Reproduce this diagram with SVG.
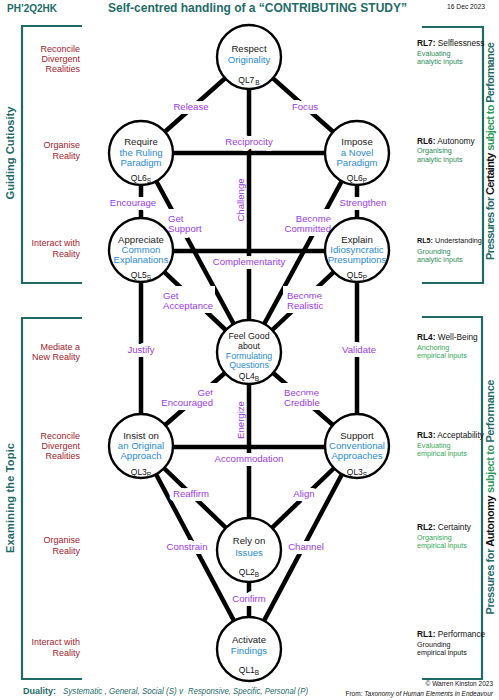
<svg xmlns="http://www.w3.org/2000/svg" width="499" height="700" viewBox="0 0 499 700">
<style>
text{font-family:"Liberation Sans",Arial,sans-serif}
.ln{stroke:#000;stroke-width:4.5;fill:none;stroke-linecap:butt}
.nd{fill:#fff;stroke:#000;stroke-width:2.4}
.nt{font-size:9.6px;fill:#1a1a1a;text-anchor:middle}
.ns{font-size:8.8px}
.nb{fill:#2b8bd3}
.ql{font-size:8.5px;fill:#111;text-anchor:middle}
.sb{font-size:6.5px}
.lb{font-size:9.6px;fill:#9b3be6;paint-order:stroke;stroke:#fff;stroke-width:8px;stroke-linejoin:round}
.lv{font-size:9.6px;fill:#9b3be6;text-anchor:middle}
.bg{fill:#fff}
.mid{text-anchor:middle}
.end{text-anchor:end}
.red{font-size:9px;fill:#a3222d;text-anchor:end}
.rl{font-size:8.3px;fill:#111}
.rl5{font-size:7.2px;fill:#111}
.rlb{font-weight:bold}
.ga{font-size:7.2px;fill:#2b8a55}
.ge{font-size:7.2px;fill:#33a852}
.gk{font-size:7.2px;fill:#111}
.br{stroke:#1e6b68;stroke-width:2.2;fill:none}
.teal{fill:#1e6b68}
.vt{font-size:11px;font-weight:bold;fill:#1e6b68;text-anchor:middle}
</style>

<g id="header">
<text x="7" y="12" class="teal" font-size="10.5" font-weight="bold" textLength="50" lengthAdjust="spacingAndGlyphs">PH’2Q2HK</text>
<text x="108" y="12" class="teal" font-size="13.5" font-weight="bold" textLength="299" lengthAdjust="spacingAndGlyphs">Self-centred handling of a  “CONTRIBUTING STUDY”</text>
<text x="447" y="8.5" font-size="7" fill="#111" textLength="38" lengthAdjust="spacingAndGlyphs">16 Dec 2023</text>
</g>

<g id="brackets">
<path class="br" d="M82,26 H22 V283 H82"/>
<path class="br" d="M82,318 H22 V679 H82"/>
<path class="br" d="M422,27 H483 V283 H422"/>
<path class="br" d="M422,317 H482 V679 H422"/>
<text class="vt" transform="translate(14,153) rotate(-90)" textLength="93" lengthAdjust="spacingAndGlyphs">Guiding Cutiosity</text>
<text class="vt" transform="translate(14,498) rotate(-90)" textLength="110" lengthAdjust="spacing">Examining  the  Topic</text>
<text class="vt" transform="translate(494,151) rotate(-90)" textLength="218" lengthAdjust="spacing">Pressures for <tspan fill="#111">Certainty</tspan> <tspan fill="#2e9a5a">subject to</tspan> Performance</text>
<text class="vt" transform="translate(494,497) rotate(-90)" textLength="235" lengthAdjust="spacing">Pressures for <tspan fill="#111">Autonomy</tspan> <tspan fill="#2e9a5a">subject to</tspan> Performance</text>
</g>

<g id="left-labels">
<text class="red" x="80" y="52">Reconcile</text>
<text class="red" x="80" y="62">Divergent</text>
<text class="red" x="80" y="72">Realities</text>
<text class="red" x="80" y="148">Organise</text>
<text class="red" x="80" y="159">Reality</text>
<text class="red" x="80" y="246">Interact with</text>
<text class="red" x="80" y="257">Reality</text>
<text class="red" x="80" y="350">Mediate a</text>
<text class="red" x="80" y="360">New Reality</text>
<text class="red" x="80" y="439">Reconcile</text>
<text class="red" x="80" y="449">Divergent</text>
<text class="red" x="80" y="459">Realities</text>
<text class="red" x="80" y="543">Organise</text>
<text class="red" x="80" y="554">Reality</text>
<text class="red" x="80" y="645">Interact with</text>
<text class="red" x="80" y="656">Reality</text>
</g>

<g id="right-labels">
<text class="rl" x="417" y="46"><tspan class="rlb">RL7:</tspan> Selflessness</text>
<text class="ga" x="417" y="55.5">Evaluating</text>
<text class="ga" x="417" y="64">analytic inputs</text>
<text class="rl" x="417" y="144"><tspan class="rlb">RL6:</tspan> Autonomy</text>
<text class="ga" x="417" y="153">Organising</text>
<text class="ga" x="417" y="161.5">analytic inputs</text>
<text class="rl5" x="417" y="243"><tspan class="rlb">RL5:</tspan> Understanding</text>
<text class="ga" x="417" y="253.5">Grounding</text>
<text class="ga" x="417" y="262">analytic inputs</text>
<text class="rl" x="417" y="340"><tspan class="rlb">RL4:</tspan> Well-Being</text>
<text class="ge" x="417" y="349.5">Anchoring</text>
<text class="ge" x="417" y="358">empirical inputs</text>
<text class="rl" x="417" y="438"><tspan class="rlb">RL3:</tspan> Acceptability</text>
<text class="ge" x="417" y="447.5">Evaluating</text>
<text class="ge" x="417" y="456">empirical inputs</text>
<text class="rl" x="417" y="530"><tspan class="rlb">RL2:</tspan> Certainty</text>
<text class="ge" x="417" y="539.5">Organising</text>
<text class="ge" x="417" y="548">empirical inputs</text>
<text class="rl" x="417" y="637"><tspan class="rlb">RL1:</tspan> Performance</text>
<text class="gk" x="417" y="646.5">Grounding</text>
<text class="gk" x="417" y="655">empirical inputs</text>
</g>

<g id="connectors">
<line class="ln" x1="249" y1="57" x2="141" y2="153"/>
<line class="ln" x1="249" y1="57" x2="357" y2="153"/>
<line class="ln" x1="249" y1="57" x2="249" y2="352"/>
<line class="ln" x1="141" y1="153" x2="357" y2="153"/>
<line class="ln" x1="141" y1="153" x2="141" y2="250"/>
<line class="ln" x1="357" y1="153" x2="357" y2="250"/>
<line class="ln" x1="141" y1="153" x2="249" y2="352"/>
<line class="ln" x1="357" y1="153" x2="249" y2="352"/>
<line class="ln" x1="141" y1="251" x2="357" y2="251"/>
<line class="ln" x1="141" y1="250" x2="249" y2="352"/>
<line class="ln" x1="357" y1="250" x2="249" y2="352"/>
<line class="ln" x1="141" y1="250" x2="141" y2="446"/>
<line class="ln" x1="357" y1="250" x2="357" y2="446"/>
<line class="ln" x1="249" y1="352" x2="141" y2="446"/>
<line class="ln" x1="249" y1="352" x2="357" y2="446"/>
<line class="ln" x1="249" y1="352" x2="249" y2="550"/>
<line class="ln" x1="141" y1="447" x2="357" y2="447"/>
<line class="ln" x1="141" y1="446" x2="249" y2="550"/>
<line class="ln" x1="357" y1="446" x2="249" y2="550"/>
<line class="ln" x1="141" y1="446" x2="249" y2="649"/>
<line class="ln" x1="357" y1="446" x2="249" y2="649"/>
<line class="ln" x1="249" y1="550" x2="249" y2="649"/>
</g>

<g id="connector-labels">
<rect class="bg" x="164" y="209" width="44" height="27"/>
<rect class="bg" x="285" y="209" width="49" height="27"/>
<rect class="bg" x="160" y="286" width="55" height="27"/>
<rect class="bg" x="283" y="286" width="41" height="27"/>
<rect class="bg" x="160" y="383" width="57" height="27"/>
<rect class="bg" x="280" y="383" width="43" height="27"/>
<text class="lb mid" x="191" y="109.5">Release</text>
<text class="lb mid" x="305" y="109.5">Focus</text>
<text class="lb mid" x="249" y="144.5">Reciprocity</text>
<text class="lb mid" x="133" y="205.5">Encourage</text>
<text class="lb mid" x="363" y="205.5">Strengthen</text>
<text class="lb" x="168" y="221.5">Get</text>
<text class="lb" x="168" y="231.5">Support</text>
<text class="lb end" x="331" y="221.5">Become</text>
<text class="lb end" x="331" y="231.5">Committed</text>
<text class="lv" transform="translate(244,200) rotate(-90)">Challenge</text>
<text class="lb mid" x="249" y="265">Complementarity</text>
<text class="lb" x="163" y="298.5">Get</text>
<text class="lb" x="163" y="308.5">Acceptance</text>
<text class="lb" x="287" y="298.5">Become</text>
<text class="lb" x="287" y="308.5">Realistic</text>
<text class="lb mid" x="141" y="352.5">Justify</text>
<text class="lb mid" x="359" y="352.5">Validate</text>
<text class="lb end" x="213" y="395.5">Get</text>
<text class="lb end" x="213" y="405.5">Encouraged</text>
<text class="lb" x="284" y="395.5">Become</text>
<text class="lb" x="284" y="405.5">Credible</text>
<text class="lv" transform="translate(244,420) rotate(-90)">Energize</text>
<text class="lb mid" x="249" y="461.5">Accommodation</text>
<text class="lb mid" x="191" y="496.5">Reaffirm</text>
<text class="lb mid" x="304" y="496.5">Align</text>
<text class="lb mid" x="187" y="549.5">Constrain</text>
<text class="lb mid" x="306" y="549.5">Channel</text>
<text class="lb mid" x="249" y="601.5">Confirm</text>
</g>

<g id="ql7">
<circle class="nd" cx="249" cy="57" r="32"/>
<text class="nt" x="249" y="51.5">Respect</text>
<text class="nt nb" x="249" y="62.5">Originality</text>
<text class="ql" x="249" y="83">QL7<tspan class="sb" dx="1" dy="1.5">B</tspan></text>
</g>
<g id="ql6s">
<circle class="nd" cx="141" cy="153" r="32"/>
<text class="nt" x="141" y="144.5">Require</text>
<text class="nt nb" x="141" y="155.5">the Ruling</text>
<text class="nt nb" x="141" y="165.5">Paradigm</text>
<text class="ql" x="141" y="181">QL6<tspan class="sb" dy="1.5">S</tspan></text>
</g>
<g id="ql6p">
<circle class="nd" cx="357" cy="153" r="32"/>
<text class="nt" x="357" y="144.5">Impose</text>
<text class="nt nb" x="357" y="155.5">a Novel</text>
<text class="nt nb" x="357" y="165.5">Paradigm</text>
<text class="ql" x="357" y="181">QL6<tspan class="sb" dy="1.5">P</tspan></text>
</g>
<g id="ql5s">
<circle class="nd" cx="141" cy="250" r="32"/>
<text class="nt" x="141" y="242.5">Appreciate</text>
<text class="nt nb" x="141" y="252.5">Common</text>
<text class="nt nb" x="141" y="262.5">Explanations</text>
<text class="ql" x="141" y="278">QL5<tspan class="sb" dy="1.5">S</tspan></text>
</g>
<g id="ql5p">
<circle class="nd" cx="357" cy="250" r="32"/>
<text class="nt" x="357" y="242.5">Explain</text>
<text class="nt nb" x="357" y="252.5">Idiosyncratic</text>
<text class="nt nb" x="357" y="262.5">Presumptions</text>
<text class="ql" x="357" y="278">QL5<tspan class="sb" dy="1.5">P</tspan></text>
</g>
<g id="ql4">
<circle class="nd" cx="249" cy="352" r="32"/>
<text class="nt ns" x="249" y="339">Feel Good</text>
<text class="nt ns" x="249" y="348.5">about</text>
<text class="nt ns nb" x="249" y="358.5">Formulating</text>
<text class="nt ns nb" x="249" y="368">Questions</text>
<text class="ql" x="249" y="379">QL4<tspan class="sb" dy="1.5">B</tspan></text>
</g>
<g id="ql3p">
<circle class="nd" cx="141" cy="446" r="32"/>
<text class="nt" x="141" y="438.5">Insist on</text>
<text class="nt nb" x="141" y="448.5">an Original</text>
<text class="nt nb" x="141" y="458.5">Approach</text>
<text class="ql" x="141" y="475">QL3<tspan class="sb" dy="1.5">P</tspan></text>
</g>
<g id="ql3s">
<circle class="nd" cx="357" cy="446" r="32"/>
<text class="nt" x="357" y="438.5">Support</text>
<text class="nt nb" x="357" y="448.5">Conventional</text>
<text class="nt nb" x="357" y="458.5">Approaches</text>
<text class="ql" x="357" y="475">QL3<tspan class="sb" dy="1.5">S</tspan></text>
</g>
<g id="ql2">
<circle class="nd" cx="249" cy="550" r="32"/>
<text class="nt" x="249" y="543.5">Rely on</text>
<text class="nt nb" x="249" y="555.5">Issues</text>
<text class="ql" x="249" y="575">QL2<tspan class="sb" dy="1.5">B</tspan></text>
</g>
<g id="ql1">
<circle class="nd" cx="249" cy="649" r="32"/>
<text class="nt" x="249" y="642.5">Activate</text>
<text class="nt nb" x="249" y="653.5">Findings</text>
<text class="ql" x="249" y="673">QL1<tspan class="sb" dy="1.5">B</tspan></text>
</g>

<g id="footer">
<text x="23" y="694" class="teal" font-size="9" font-weight="bold">Duality:</text>
<text x="63" y="694" class="teal" font-size="9" font-style="italic" textLength="120" lengthAdjust="spacingAndGlyphs">Systematic , General, Social (S)  v</text>
<text x="188" y="694" class="teal" font-size="9" font-style="italic" textLength="120" lengthAdjust="spacingAndGlyphs">Responsive, Specific, Personal (P)</text>
<text x="493" y="686" class="end" font-size="6.5" fill="#111">© Warren Kinston  2023</text>
<text x="493" y="696" class="end" font-size="6.5" fill="#111">From: <tspan font-style="italic">Taxonomy of Human Elements in Endeavour</tspan></text>
</g>
</svg>
